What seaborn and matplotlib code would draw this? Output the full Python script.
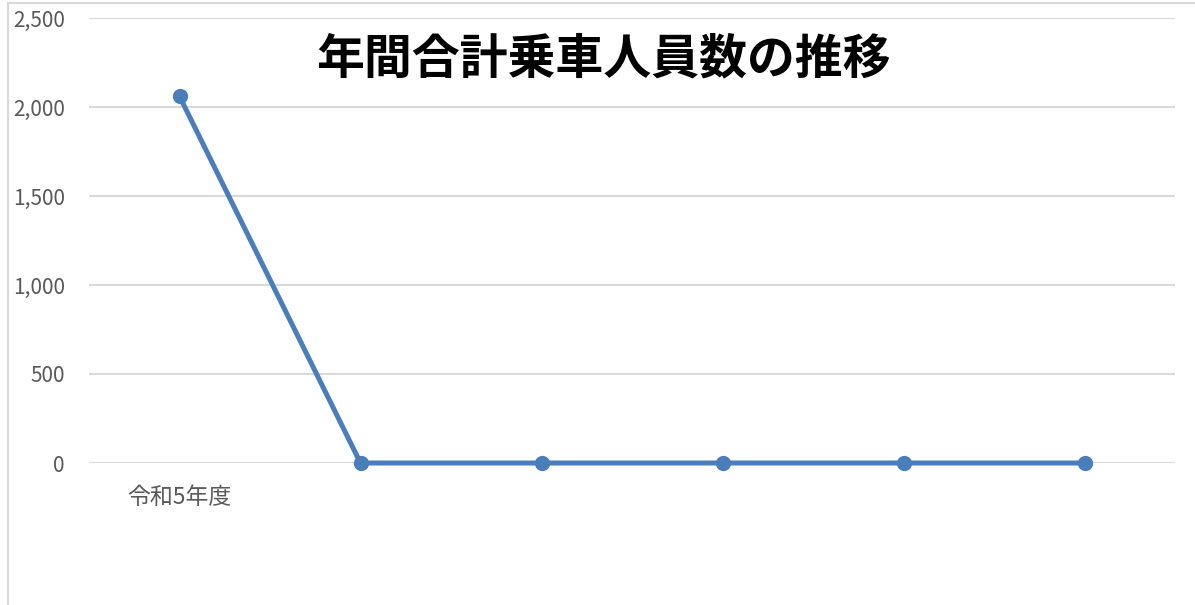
import numpy as np
import pandas as pd
import matplotlib.pyplot as plt
import seaborn as sns
from matplotlib.lines import Line2D

# data
years = ["令和5年度", "", "", "", "", ""]
passengers = [2060, 0, 0, 0, 0, 0]
y_ticks = [0, 500, 1000, 1500, 2000, 2500]

sns.set_style("white")
plt.rcParams['font.family'] = ['Noto Sans CJK JP', 'DejaVu Sans']

df = pd.DataFrame({'pos': np.arange(len(years)), 'value': passengers})

fig = plt.figure(figsize=(11.95, 6.05), dpi=100)
ax = fig.add_axes([89 / 1195, 142 / 605, (1175 - 89) / 1195, (463 - 18) / 605])

sns.lineplot(data=df, x='pos', y='value', ax=ax, color='#4a7ebb', linewidth=3.6,
             marker='o', markersize=11, markeredgewidth=0, zorder=3, clip_on=False)

ax.set_xlim(-0.5, len(years) - 0.5)
ax.set_ylim(0, 2500)
ax.set_yticks(y_ticks)
ax.set_yticklabels([f"{v:,}" for v in y_ticks])
ax.set_xticks(df['pos'])
ax.set_xticklabels(years)
ax.grid(axis='y', color='#d9d9d9', linewidth=1.5)
ax.set_axisbelow(True)
for s in ax.spines.values():
    s.set_visible(False)
ax.tick_params(axis='y', length=0, pad=17.5, labelsize=15, labelcolor='#595959')
ax.tick_params(axis='x', length=0, pad=16.5, labelsize=16.5, labelcolor='#595959')
ax.set_xlabel('')
ax.set_ylabel('')

fig.text(0.505, 0.903, "年間合計乗車人員数の推移", ha='center', va='center',
         fontsize=34.5, fontweight='bold', color='black')

# chart frame, cut off at right and bottom
fig.add_artist(Line2D([8 / 1195, 1.01], [1 - 3 / 605] * 2, transform=fig.transFigure,
                      color='#d9d9d9', linewidth=1.5))
fig.add_artist(Line2D([8 / 1195] * 2, [1 - 3 / 605, -0.01], transform=fig.transFigure,
                      color='#d9d9d9', linewidth=1.5))

fig.savefig('out.png', dpi=100)
